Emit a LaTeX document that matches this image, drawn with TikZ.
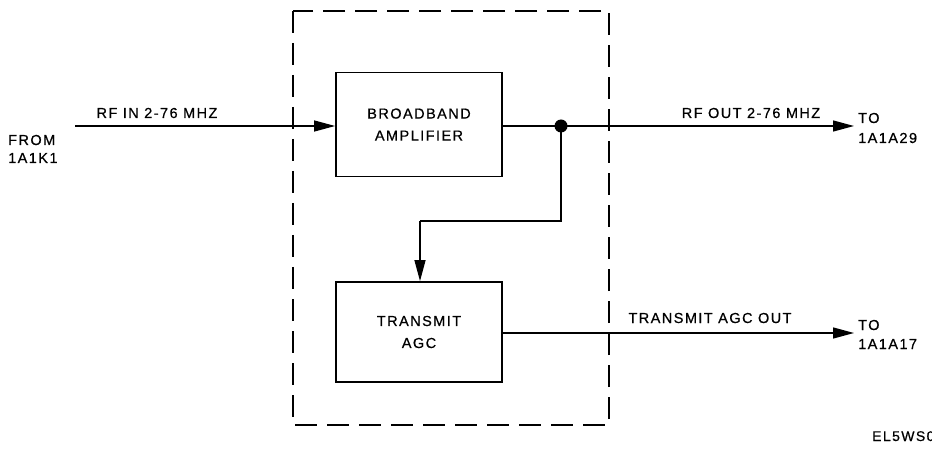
\documentclass[tikz,border=0pt]{standalone}
\usepackage{fontspec}
\setmainfont{Liberation Sans}[LetterSpace=10,FakeBold=0.6]
\usetikzlibrary{arrows.meta}
\begin{document}
\begin{tikzpicture}[x=1pt,y=-1pt,
  blk/.style={draw,line width=1.8pt,minimum width=166pt,minimum height=104pt,inner sep=0pt,align=center,font=\fontsize{14.5}{22}\selectfont},
  lbl/.style={font=\fontsize{14.5}{20}\selectfont,inner sep=0pt},
  sig/.style={line width=1.3pt},
  arr/.style={sig,-{Triangle[length=21pt,width=11pt]}},
  encl/.style={line width=1.8pt,dash pattern=on 22pt off 10pt}]
\clip (0,0) rectangle (932,449);
\useasboundingbox (0,0) rectangle (932,449);
\draw[encl] (293,11) rectangle (609,425);
\node[blk] (bba) at (419,124.5) {BROADBAND\\AMPLIFIER};
\node[blk,minimum height=100pt] (agc) at (419,332) {TRANSMIT\\AGC};
\coordinate (in) at (75,126);
\coordinate (j) at (561,126);
\coordinate (out1) at (854,126);
\coordinate (out2) at (854,333);
\coordinate (bend1) at (561,221);
\coordinate (bend2) at (420,221);
\draw[arr] (in) -- (bba.west |- in);
\draw[sig] (bba.east |- j) -- (j);
\draw[arr] (j) -- (out1);
\fill (j) circle (6.5pt);
\draw[sig] (j) -- (bend1) -- (bend2);
\draw[arr] (bend2) -- (bend2 |- agc.north);
\draw[arr] (agc.east |- out2) -- (out2);
\node[lbl,anchor=base] (l1) at (157,118) {RF IN 2-76 MHZ};
\node[lbl,anchor=base] (l2) at (751,118) {RF OUT 2-76 MHZ};
\node[lbl,anchor=base] (l3) at (710,323) {TRANSMIT AGC OUT};
\node[lbl,anchor=base west] (f1) at (8,145) {FROM};
\node[lbl,anchor=base west] (f2) at (8,163) {1A1K1};
\node[lbl,anchor=base west] (t1) at (858,123) {TO};
\node[lbl,anchor=base west] (t2) at (858,143) {1A1A29};
\node[lbl,anchor=base west] (t3) at (858,330) {TO};
\node[lbl,anchor=base west] (t4) at (858,349) {1A1A17};
\node[anchor=base west,inner sep=0pt,font=\fontsize{14}{16}\selectfont] (id) at (872,441) {EL5WS0};
\end{tikzpicture}
\end{document}
